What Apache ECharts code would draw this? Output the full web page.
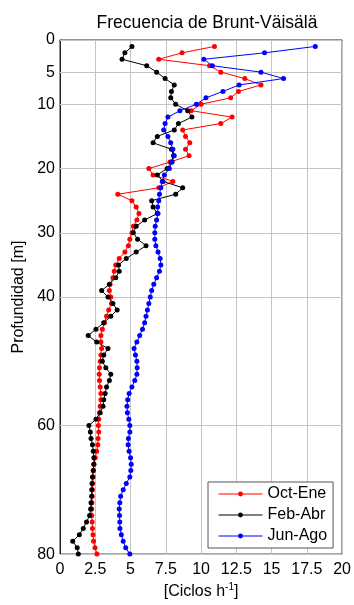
<!DOCTYPE html>
<html>
<head>
<meta charset="utf-8">
<script src="https://cdn.jsdelivr.net/npm/echarts@6/dist/echarts.min.js"></script>
<style>html,body{margin:0;padding:0;background:#fff;}#c{width:354px;height:605px;}</style>
</head>
<body>
<div id="c"></div>
<script>
var depths = [1,2,3,4,5,6,7,8,9,10,11,12,13,14,15,16,17,18,19,20,21,22,23,24,25,26,27,28,29,30,31,32,33,34,35,36,37,38,39,40,41,42,43,44,45,46,47,48,49,50,51,52,53,54,55,56,57,58,59,60,61,62,63,64,65,66,67,68,69,70,71,72,73,74,75,76,77,78,79,80];
var octEne = [10.95,8.65,7.0,10.6,11.4,13.1,14.25,12.65,12.1,10.0,9.3,12.2,11.4,8.7,8.9,9.2,8.9,9.15,7.8,6.3,6.6,8.0,7.0,4.1,5.1,5.4,5.6,5.45,5.2,5.1,4.95,4.85,4.6,4.2,3.95,3.85,3.75,3.55,3.5,3.6,3.65,3.45,3.3,3.15,3.0,2.9,2.9,2.95,2.9,2.85,2.8,2.78,2.8,2.85,2.9,2.9,2.85,2.8,2.75,2.72,2.75,2.7,2.68,2.6,2.5,2.4,2.36,2.35,2.32,2.3,2.28,2.26,2.25,2.25,2.28,2.3,2.34,2.38,2.48,2.62];
var febAbr = [5.1,4.6,4.4,6.15,6.85,7.45,8.1,7.9,7.85,8.2,9.05,9.35,8.4,8.1,6.9,6.6,7.9,8.05,7.9,7.6,6.9,7.3,8.7,8.2,6.5,6.6,6.9,6.0,5.4,5.2,5.5,6.1,5.4,4.7,4.15,4.2,3.95,3.5,2.95,3.4,3.75,4.05,3.6,3.1,2.55,2.0,2.6,3.4,3.1,3.0,3.25,3.6,3.5,3.3,3.2,3.1,3.05,2.85,2.55,2.05,2.15,2.2,2.3,2.36,2.4,2.4,2.36,2.3,2.27,2.25,2.24,2.2,2.17,2.1,1.88,1.65,1.37,0.9,1.22,1.3];
var junAgo = [18.1,14.5,10.2,10.8,14.25,15.85,12.7,11.55,10.35,9.67,8.5,7.65,7.45,7.35,7.65,7.85,8.0,8.1,7.95,7.75,7.4,7.25,7.15,7.05,7.0,6.92,6.95,6.85,6.75,6.72,6.72,6.8,6.95,7.1,7.15,7.05,6.85,6.65,6.5,6.4,6.3,6.2,6.1,6.0,5.85,5.65,5.45,5.25,5.35,5.45,5.47,5.45,5.3,5.1,4.9,4.8,4.75,4.78,4.88,4.95,4.95,4.85,4.83,4.9,5.0,5.05,5.02,4.95,4.7,4.48,4.3,4.24,4.2,4.22,4.24,4.25,4.35,4.48,4.66,4.95];
var seriesNames = ['Oct-Ene','Feb-Abr','Jun-Ago'];
var yTicks = [0,5,10,20,30,40,60,80];
var xTickStep = 2.5;

var FONT = '"Liberation Sans", Arial, sans-serif';
function pairs(vals){ return vals.map(function(v,i){ return [v, depths[i]]; }); }
function mk(name, vals, color){
  return {
    name: name, type: 'line', data: pairs(vals), z: 3,
    symbol: 'circle', symbolSize: 5, showSymbol: true,
    lineStyle: {color: color, width: 1}, itemStyle: {color: color},
    emphasis: {disabled: true}
  };
}
var chart = echarts.init(document.getElementById('c'), null, {renderer: 'canvas'});
chart.setOption({
  animation: false,
  backgroundColor: '#fff',
  textStyle: {fontFamily: FONT},
  title: {
    text: 'Frecuencia de Brunt-Väisälä', left: 202, top: 9, textAlign: 'center',
    textStyle: {fontFamily: FONT, fontSize: 17.5, fontWeight: 'normal', color: '#000'}
  },
  grid: {left: 60, top: 40, width: 284, height: 516, show: true, borderColor: '#262626', borderWidth: 1, backgroundColor: 'transparent'},
  legend: {
    orient: 'vertical', left: 208, top: 482,
    data: seriesNames,
    itemWidth: 44, itemHeight: 6, itemGap: 5,
    padding: [4, 6, 4, 10],
    backgroundColor: '#fff', borderColor: '#555', borderWidth: 1, borderRadius: 0,
    lineStyle: {width: 1},
    textStyle: {fontFamily: FONT, fontSize: 16, color: '#000', lineHeight: 16}
  },
  xAxis: {
    type: 'value', min: 0, max: 20, interval: xTickStep,
    axisLine: {show: true, lineStyle: {color: '#262626'}},
    axisTick: {show: false},
    axisLabel: {fontFamily: FONT, fontSize: 16, color: '#000', margin: 7},
    splitLine: {show: true, lineStyle: {color: '#c4c4c4', width: 1}},
    name: '{n|[Ciclos h}{sup|-1}{n|]}', nameLocation: 'middle', nameGap: 22,
    nameTextStyle: {fontFamily: FONT, fontSize: 16, color: '#000', rich: {
      n: {fontFamily: FONT, fontSize: 16, color: '#000', verticalAlign: 'bottom', lineHeight: 18},
      sup: {fontFamily: FONT, fontSize: 10, color: '#000', verticalAlign: 'bottom', lineHeight: 10, padding: [0, 0, 8, 0]}
    }}
  },
  yAxis: {
    type: 'value', min: 0, max: 80, interval: 5, inverse: true,
    axisLine: {show: true, lineStyle: {color: '#262626'}},
    axisTick: {show: false},
    splitLine: {show: false},
    axisLabel: {
      fontFamily: FONT, fontSize: 16, color: '#000', margin: 5,
      formatter: function(v){ return yTicks.indexOf(v) >= 0 ? String(v) : ''; }
    },
    name: 'Profundidad [m]', nameLocation: 'middle', nameGap: 32, nameRotate: 90,
    nameTextStyle: {fontFamily: FONT, fontSize: 16, color: '#000'}
  },
  series: [
    {
      name: 'grid', type: 'line', data: [], z: 1, silent: true,
      markLine: {
        silent: true, symbol: ['none','none'], animation: false, z: 1,
        label: {show: false},
        lineStyle: {color: '#c4c4c4', width: 1, type: 'solid'},
        emphasis: {disabled: true},
        data: yTicks.map(function(v){ return {yAxis: v}; })
      }
    },
    mk(seriesNames[0], octEne, '#ff0000'),
    mk(seriesNames[1], febAbr, '#000000'),
    mk(seriesNames[2], junAgo, '#0000ff')
  ]
});
</script>
</body>
</html>
